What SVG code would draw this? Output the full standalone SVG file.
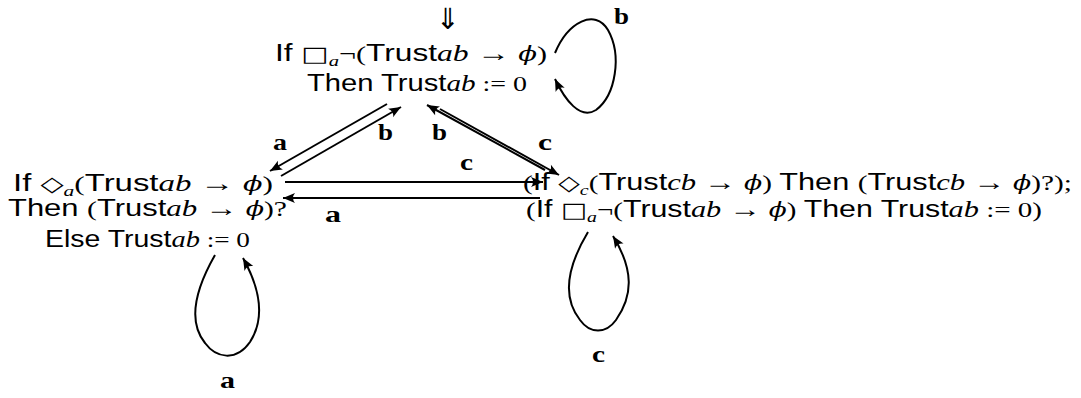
<svg xmlns="http://www.w3.org/2000/svg" width="1081" height="398" viewBox="0 0 1081 398">
<style>
text{font-size:22px;fill:#000}
.s{font-family:"Liberation Sans",Arial,sans-serif;font-size:23px}
.r{font-family:"Liberation Serif","Times New Roman",serif}
.a{font-family:"Liberation Serif","Times New Roman",serif;font-size:24px}
.m{font-family:"Liberation Serif","Times New Roman",serif;font-style:italic;font-size:23px}
.p{font-family:"DejaVu Serif",serif;font-style:italic;font-size:20px}
.g{font-family:"DejaVu Sans",sans-serif;font-size:21px}
.sub{font-size:15px}
.lbl{font-family:"Liberation Serif","Times New Roman",serif;font-weight:bold;font-size:23px}
.e{fill:none;stroke:#000;stroke-width:2}
</style>
<defs>
<marker id="ah" viewBox="-13 -6 14 12" refX="0" refY="0" markerWidth="14" markerHeight="12" orient="auto" markerUnits="userSpaceOnUse">
<path d="M0,0 L-12,-5 Q-8,0 -12,5 Z" fill="#000"/>
</marker>
</defs>
<g id="node-top">
<text x="448" y="29" style="font-family:'DejaVu Sans',sans-serif;font-size:29px" text-anchor="middle">⇓</text>
<text x="275" y="61" textLength="272" lengthAdjust="spacingAndGlyphs"><tspan class="s">If </tspan><tspan class="g">□</tspan><tspan class="m sub" dy="5">a</tspan><tspan class="r" dy="-5">¬(</tspan><tspan class="s">Trust</tspan><tspan class="m">ab</tspan><tspan class="a">  → </tspan><tspan class="p">ϕ</tspan><tspan class="r">)</tspan></text>
<text x="307" y="91" textLength="220" lengthAdjust="spacingAndGlyphs"><tspan class="s">Then Trust</tspan><tspan class="m">ab</tspan><tspan class="r"> := 0</tspan></text>
</g>
<g id="node-left">
<text x="13" y="191" textLength="260" lengthAdjust="spacingAndGlyphs"><tspan class="s">If </tspan><tspan class="g">◇</tspan><tspan class="m sub" dy="5">a</tspan><tspan class="r" dy="-5">(</tspan><tspan class="s">Trust</tspan><tspan class="m">ab</tspan><tspan class="a">  → </tspan><tspan class="p">ϕ</tspan><tspan class="r">)</tspan></text>
<text x="8" y="216" textLength="279" lengthAdjust="spacingAndGlyphs"><tspan class="s">Then </tspan><tspan class="r">(</tspan><tspan class="s">Trust</tspan><tspan class="m">ab</tspan><tspan class="a">  → </tspan><tspan class="p">ϕ</tspan><tspan class="r">)?</tspan></text>
<text x="45" y="247" textLength="205" lengthAdjust="spacingAndGlyphs"><tspan class="s">Else Trust</tspan><tspan class="m">ab</tspan><tspan class="r"> := 0</tspan></text>
</g>
<g id="node-right">
<text x="523" y="190" textLength="549" lengthAdjust="spacingAndGlyphs"><tspan class="r">(</tspan><tspan class="s">If </tspan><tspan class="g">◇</tspan><tspan class="m sub" dy="5">c</tspan><tspan class="r" dy="-5">(</tspan><tspan class="s">Trust</tspan><tspan class="m">cb</tspan><tspan class="a">  → </tspan><tspan class="p">ϕ</tspan><tspan class="r">) </tspan><tspan class="s">Then </tspan><tspan class="r">(</tspan><tspan class="s">Trust</tspan><tspan class="m">cb</tspan><tspan class="a">  → </tspan><tspan class="p">ϕ</tspan><tspan class="r">)?);</tspan></text>
<text x="526" y="217" textLength="516" lengthAdjust="spacingAndGlyphs"><tspan class="r">(</tspan><tspan class="s">If </tspan><tspan class="g">□</tspan><tspan class="m sub" dy="5">a</tspan><tspan class="r" dy="-5">¬(</tspan><tspan class="s">Trust</tspan><tspan class="m">ab</tspan><tspan class="a">  → </tspan><tspan class="p">ϕ</tspan><tspan class="r">) </tspan><tspan class="s">Then Trust</tspan><tspan class="m">ab</tspan><tspan class="r"> := 0)</tspan></text>
</g>
<g id="connectors">
<line class="e" x1="387" y1="104" x2="270" y2="171" marker-end="url(#ah)"/>
<line class="e" x1="281" y1="176" x2="401" y2="107" marker-end="url(#ah)"/>
<line class="e" x1="545" y1="170" x2="427" y2="105" marker-end="url(#ah)"/>
<line class="e" x1="440" y1="109" x2="559" y2="175" marker-end="url(#ah)"/>
<line class="e" x1="285" y1="182" x2="543" y2="182" marker-end="url(#ah)"/>
<line class="e" x1="540" y1="198" x2="283" y2="198" marker-end="url(#ah)"/>
<path class="e" d="M555,53 C568,22 595,8 608,30 C622,55 616,95 596,110 C580,120 565,100 555,79" marker-end="url(#ah)"/>
<path class="e" d="M215,255 C195,290 188,322 205,343 C216,358 236,362 250,342 C264,320 262,292 243,258" marker-end="url(#ah)"/>
<path class="e" d="M588,232 C570,262 560,295 580,320 C590,334 606,334 616,320 C633,296 634,270 613,236" marker-end="url(#ah)"/>
<text class="lbl" x="614" y="24" textLength="15" lengthAdjust="spacingAndGlyphs">b</text>
<text class="lbl" x="273" y="150" textLength="14" lengthAdjust="spacingAndGlyphs">a</text>
<text class="lbl" x="378" y="140" textLength="15" lengthAdjust="spacingAndGlyphs">b</text>
<text class="lbl" x="432" y="140" textLength="15" lengthAdjust="spacingAndGlyphs">b</text>
<text class="lbl" x="538" y="150" textLength="14" lengthAdjust="spacingAndGlyphs">c</text>
<text class="lbl" x="460" y="170" textLength="13" lengthAdjust="spacingAndGlyphs">c</text>
<text class="lbl" x="325" y="222" textLength="16" lengthAdjust="spacingAndGlyphs">a</text>
<text class="lbl" x="220" y="388" textLength="15" lengthAdjust="spacingAndGlyphs">a</text>
<text class="lbl" x="592" y="362" textLength="13" lengthAdjust="spacingAndGlyphs">c</text>
</g>
</svg>
